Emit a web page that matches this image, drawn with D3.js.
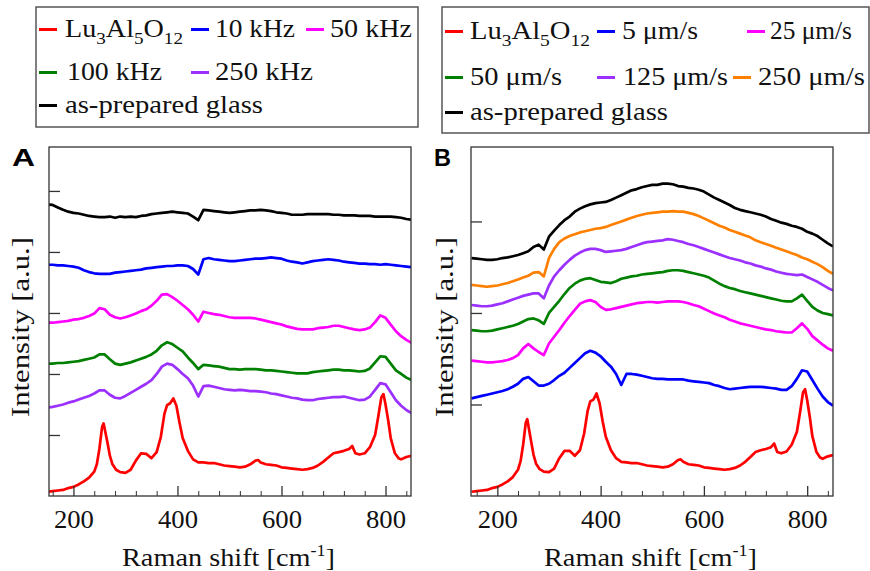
<!DOCTYPE html>
<html>
<head>
<meta charset="utf-8">
<script src="https://cdnjs.cloudflare.com/ajax/libs/d3/7.8.5/d3.min.js"></script>
<style>
body { margin: 0; background: #fff; }
</style>
</head>
<body>
<div id="chart"></div>
<script>
// Raman shift grid (cm-1) shared by the glass-ceramic spectra
const shiftGrid = [150, 160, 170, 180, 190, 200, 210, 220, 230, 240,
    250, 260, 270, 280, 290, 300, 310, 320, 330, 340,
    350, 360, 370, 380, 390, 400, 410, 420, 430, 440,
    450, 460, 470, 480, 490, 500, 510, 520, 530, 540,
    550, 560, 570, 580, 590, 600, 610, 620, 630, 640,
    650, 660, 670, 680, 690, 700, 710, 720, 730, 740,
    750, 760, 770, 780, 790, 800, 810, 820, 830, 840,
    850];

// Lu3Al5O12 reference is sampled more densely around its sharp bands
const lagShift = [150, 160, 170, 180, 190, 200, 210, 220, 230, 240,
    245, 250, 255, 258, 262, 266, 270, 275, 282, 290,
    300, 310, 320, 330, 340, 350, 360, 368, 375, 380,
    386, 392, 398, 404, 410, 420, 430, 440, 450, 460,
    470, 480, 490, 500, 510, 520, 530, 540, 550, 555,
    560, 570, 580, 590, 600, 610, 620, 630, 640, 650,
    660, 670, 680, 690, 700, 710, 720, 730, 736, 742,
    750, 760, 770, 780, 786, 792, 796, 800, 805, 810,
    818, 825, 830, 840, 850];

// ---- panel A (frequency series), offset intensities in a.u.
const lagA = [0.07, 0.08, 0.09, 0.10, 0.13, 0.15, 0.19, 0.24, 0.30, 0.40,
    0.52, 0.78, 1.13, 1.19, 1.02, 0.85, 0.66, 0.52, 0.43, 0.39,
    0.38, 0.43, 0.58, 0.70, 0.69, 0.62, 0.72, 0.97, 1.35, 1.49,
    1.52, 1.60, 1.48, 1.20, 0.95, 0.74, 0.60, 0.55, 0.55, 0.54,
    0.54, 0.52, 0.50, 0.49, 0.48, 0.47, 0.48, 0.52, 0.58, 0.59,
    0.55, 0.52, 0.51, 0.50, 0.47, 0.46, 0.45, 0.44, 0.43, 0.44,
    0.46, 0.50, 0.56, 0.63, 0.70, 0.72, 0.74, 0.77, 0.82, 0.70,
    0.68, 0.70, 0.80, 1.00, 1.30, 1.62, 1.67, 1.50, 1.25, 0.95,
    0.70, 0.62, 0.60, 0.64, 0.66];

const khz10 = [3.79, 3.79, 3.78, 3.78, 3.77, 3.76, 3.74, 3.70, 3.67, 3.65,
    3.64, 3.64, 3.64, 3.66, 3.67, 3.68, 3.69, 3.70, 3.71, 3.73,
    3.74, 3.75, 3.76, 3.77, 3.77, 3.78, 3.78, 3.77, 3.72, 3.63,
    3.88, 3.90, 3.88, 3.87, 3.86, 3.85, 3.85, 3.86, 3.87, 3.88,
    3.89, 3.89, 3.90, 3.91, 3.90, 3.89, 3.86, 3.84, 3.83, 3.81,
    3.83, 3.85, 3.86, 3.87, 3.88, 3.87, 3.86, 3.84, 3.83, 3.82,
    3.81, 3.81, 3.80, 3.80, 3.79, 3.80, 3.79, 3.78, 3.77, 3.76,
    3.75];

const khz50 = [2.84, 2.84, 2.85, 2.86, 2.87, 2.89, 2.90, 2.92, 2.95, 2.99,
    3.08, 3.06, 2.97, 2.93, 2.91, 2.93, 2.96, 2.99, 3.03, 3.06,
    3.12, 3.20, 3.30, 3.31, 3.26, 3.20, 3.13, 3.06, 2.97, 2.86,
    3.02, 3.00, 2.98, 2.97, 2.95, 2.93, 2.92, 2.92, 2.92, 2.92,
    2.91, 2.89, 2.87, 2.85, 2.83, 2.81, 2.78, 2.76, 2.74, 2.73,
    2.73, 2.73, 2.75, 2.76, 2.77, 2.79, 2.79, 2.77, 2.75, 2.73,
    2.72, 2.73, 2.76, 2.85, 2.96, 2.92, 2.81, 2.70, 2.62, 2.56,
    2.51];

const khz100 = [2.17, 2.17, 2.18, 2.18, 2.19, 2.20, 2.21, 2.23, 2.25, 2.27,
    2.32, 2.32, 2.24, 2.17, 2.15, 2.17, 2.19, 2.22, 2.25, 2.28,
    2.32, 2.38, 2.47, 2.52, 2.49, 2.43, 2.37, 2.27, 2.18, 2.08,
    2.15, 2.14, 2.13, 2.12, 2.10, 2.08, 2.08, 2.07, 2.08, 2.08,
    2.08, 2.07, 2.06, 2.06, 2.05, 2.04, 2.03, 2.02, 2.01, 2.01,
    2.01, 2.03, 2.04, 2.05, 2.06, 2.07, 2.07, 2.06, 2.06, 2.05,
    2.04, 2.05, 2.09, 2.19, 2.29, 2.28, 2.17, 2.06, 2.00, 1.94,
    1.90];

const khz250 = [1.45, 1.46, 1.48, 1.50, 1.53, 1.55, 1.58, 1.61, 1.64, 1.68,
    1.73, 1.73, 1.66, 1.61, 1.60, 1.64, 1.69, 1.74, 1.79, 1.84,
    1.90, 2.00, 2.12, 2.17, 2.15, 2.08, 2.00, 1.93, 1.81, 1.63,
    1.80, 1.81, 1.79, 1.77, 1.75, 1.74, 1.73, 1.74, 1.73, 1.72,
    1.72, 1.71, 1.70, 1.68, 1.67, 1.65, 1.63, 1.61, 1.60, 1.58,
    1.57, 1.57, 1.59, 1.60, 1.61, 1.62, 1.62, 1.63, 1.61, 1.59,
    1.57, 1.58, 1.63, 1.74, 1.85, 1.83, 1.70, 1.57, 1.48, 1.41,
    1.36];

const glassA = [4.78, 4.77, 4.73, 4.69, 4.66, 4.64, 4.63, 4.61, 4.59, 4.58,
    4.57, 4.57, 4.58, 4.56, 4.58, 4.57, 4.58, 4.57, 4.59, 4.60,
    4.62, 4.63, 4.64, 4.65, 4.66, 4.65, 4.64, 4.63, 4.58, 4.52,
    4.69, 4.68, 4.67, 4.66, 4.65, 4.64, 4.65, 4.66, 4.67, 4.68,
    4.68, 4.69, 4.68, 4.67, 4.65, 4.64, 4.63, 4.61, 4.61, 4.61,
    4.62, 4.62, 4.62, 4.62, 4.62, 4.61, 4.61, 4.60, 4.60, 4.60,
    4.59, 4.59, 4.59, 4.58, 4.58, 4.58, 4.58, 4.57, 4.56, 4.54,
    4.53];

// ---- panel B (pulling-rate series)
const lagB = [0.07, 0.08, 0.09, 0.10, 0.13, 0.15, 0.19, 0.24, 0.31, 0.43,
    0.57, 0.84, 1.20, 1.26, 1.06, 0.87, 0.68, 0.53, 0.44, 0.40,
    0.39, 0.45, 0.62, 0.74, 0.74, 0.66, 0.75, 1.02, 1.40, 1.55,
    1.58, 1.68, 1.52, 1.22, 0.97, 0.75, 0.62, 0.56, 0.55, 0.54,
    0.54, 0.52, 0.50, 0.49, 0.48, 0.47, 0.48, 0.52, 0.59, 0.60,
    0.56, 0.52, 0.51, 0.50, 0.47, 0.46, 0.45, 0.44, 0.43, 0.44,
    0.46, 0.50, 0.56, 0.64, 0.72, 0.75, 0.77, 0.80, 0.86, 0.72,
    0.70, 0.73, 0.84, 1.05, 1.36, 1.70, 1.75, 1.57, 1.30, 0.98,
    0.72, 0.63, 0.61, 0.65, 0.67];

const ums5 = [1.60, 1.62, 1.64, 1.66, 1.68, 1.70, 1.72, 1.75, 1.79, 1.84,
    1.92, 1.95, 1.88, 1.81, 1.81, 1.84, 1.90, 1.97, 2.02, 2.10,
    2.18, 2.26, 2.34, 2.38, 2.35, 2.29, 2.20, 2.12, 2.00, 1.82,
    2.00, 2.00, 1.99, 1.97, 1.95, 1.93, 1.92, 1.92, 1.91, 1.91,
    1.91, 1.91, 1.89, 1.88, 1.87, 1.86, 1.85, 1.82, 1.80, 1.77,
    1.75, 1.76, 1.77, 1.78, 1.79, 1.79, 1.79, 1.78, 1.77, 1.76,
    1.74, 1.74, 1.80, 1.92, 2.06, 2.04, 1.90, 1.76, 1.63, 1.54,
    1.48];

const ums25 = [2.22, 2.21, 2.20, 2.19, 2.19, 2.20, 2.21, 2.23, 2.26, 2.31,
    2.42, 2.49, 2.42, 2.36, 2.31, 2.50, 2.61, 2.72, 2.84, 2.95,
    3.05, 3.15, 3.19, 3.21, 3.18, 3.10, 3.05, 3.06, 3.08, 3.10,
    3.12, 3.14, 3.16, 3.17, 3.18, 3.18, 3.17, 3.18, 3.19, 3.19,
    3.19, 3.18, 3.16, 3.13, 3.11, 3.07, 3.03, 2.99, 2.96, 2.93,
    2.89, 2.86, 2.83, 2.81, 2.79, 2.77, 2.75, 2.73, 2.72, 2.70,
    2.69, 2.68, 2.68, 2.75, 2.83, 2.74, 2.62, 2.55, 2.48, 2.42,
    2.38];

const ums50 = [2.72, 2.71, 2.70, 2.70, 2.71, 2.73, 2.75, 2.77, 2.79, 2.82,
    2.86, 2.90, 2.91, 2.88, 2.82, 3.00, 3.10, 3.20, 3.31, 3.41,
    3.48, 3.53, 3.56, 3.57, 3.54, 3.51, 3.50, 3.49, 3.52, 3.56,
    3.58, 3.60, 3.61, 3.63, 3.64, 3.65, 3.66, 3.67, 3.69, 3.70,
    3.70, 3.69, 3.67, 3.65, 3.63, 3.61, 3.58, 3.53, 3.48, 3.44,
    3.41, 3.39, 3.36, 3.34, 3.32, 3.30, 3.28, 3.26, 3.24, 3.22,
    3.20, 3.19, 3.19, 3.24, 3.30, 3.20, 3.10, 3.04, 3.00, 2.98,
    2.96];

const ums125 = [3.13, 3.12, 3.11, 3.11, 3.12, 3.14, 3.16, 3.19, 3.22, 3.25,
    3.28, 3.30, 3.32, 3.32, 3.24, 3.45, 3.60, 3.70, 3.79, 3.87,
    3.94, 3.99, 4.03, 4.05, 4.05, 4.03, 4.00, 4.01, 4.02, 4.03,
    4.05, 4.08, 4.11, 4.14, 4.16, 4.17, 4.18, 4.19, 4.21, 4.20,
    4.18, 4.16, 4.13, 4.11, 4.08, 4.05, 4.02, 3.99, 3.96, 3.93,
    3.90, 3.88, 3.86, 3.83, 3.81, 3.78, 3.76, 3.73, 3.71, 3.68,
    3.66, 3.64, 3.63, 3.62, 3.63, 3.59, 3.55, 3.51, 3.46, 3.41,
    3.37];

const ums250 = [3.46, 3.45, 3.44, 3.43, 3.44, 3.45, 3.47, 3.49, 3.52, 3.55,
    3.58, 3.61, 3.66, 3.67, 3.60, 3.90, 4.05, 4.16, 4.22, 4.26,
    4.29, 4.32, 4.34, 4.36, 4.38, 4.39, 4.41, 4.44, 4.47, 4.50,
    4.53, 4.56, 4.59, 4.61, 4.63, 4.64, 4.65, 4.66, 4.66, 4.67,
    4.66, 4.66, 4.64, 4.62, 4.59, 4.55, 4.51, 4.47, 4.43, 4.40,
    4.36, 4.33, 4.30, 4.27, 4.24, 4.19, 4.16, 4.13, 4.10, 4.07,
    4.04, 4.01, 3.98, 3.95, 3.91, 3.88, 3.84, 3.80, 3.75, 3.69,
    3.64];

const glassB = [3.90, 3.89, 3.88, 3.87, 3.87, 3.88, 3.90, 3.91, 3.93, 3.95,
    3.98, 4.01, 4.08, 4.12, 4.04, 4.25, 4.35, 4.44, 4.52, 4.58,
    4.66, 4.71, 4.75, 4.78, 4.80, 4.81, 4.82, 4.85, 4.89, 4.93,
    4.97, 5.01, 5.03, 5.06, 5.08, 5.10, 5.10, 5.12, 5.12, 5.11,
    5.08, 5.07, 5.05, 5.04, 5.02, 4.99, 4.94, 4.89, 4.85, 4.81,
    4.77, 4.72, 4.69, 4.67, 4.65, 4.63, 4.61, 4.58, 4.54, 4.51,
    4.48, 4.46, 4.43, 4.41, 4.38, 4.33, 4.30, 4.26, 4.20, 4.14,
    4.09];

// tick values
const majorTicks = [200, 400, 600, 800];
const minorTicks = [160, 240, 280, 320, 360, 440, 480, 520, 560, 640, 680, 720, 760, 840];
const yTicksA = [1, 2, 3, 4, 5];
const yTicksB = [1.5, 3, 4.5];

// legend labels ({n} = subscript)
const labelsA = ["Lu{3}Al{5}O{12}", "10 kHz", "50 kHz", "100 kHz", "250 kHz", "as-prepared glass"];
const labelsB = ["Lu{3}Al{5}O{12}", "5 μm/s", "25 μm/s", "50 μm/s", "125 μm/s", "250 μm/s", "as-prepared glass"];

const col = {red: "#ff0000", blue: "#0000ff", magenta: "#ff00ff", green: "#008000",
    purple: "#9b30ff", orange: "#ff8000", black: "#000000"};

const serif = "'Liberation Serif', Tinos, 'Times New Roman', Times, 'Nimbus Roman', serif";
const sans = "'Liberation Sans', Arial, Helvetica, sans-serif";

const W = 870, H = 571;
const svg = d3.select("#chart").append("svg")
    .attr("width", W).attr("height", H)
    .style("font-family", serif);

// put text with {subscripts} into a text element
function add_label(t, str, subSize, subDy) {
    const parts = str.split(/(\{[^}]*\})/).filter(p => p.length);
    let down = 0;
    parts.forEach(function (p) {
        if (p[0] === "{") {
            t.append("tspan").attr("font-size", subSize).attr("dy", subDy - down).text(p.slice(1, -1));
            down = subDy;
        } else {
            t.append("tspan").attr("dy", -down).text(p);
            down = 0;
        }
    });
}

function draw_panel(cfg) {
    const top = 147, bottom = 496;
    const x = d3.scaleLinear().domain(cfg.domain).range([cfg.left, cfg.right]);
    const y = d3.scaleLinear().domain([0, 5.72]).range([bottom, top]);
    const g = svg.append("g");

    g.append("clipPath").attr("id", "clip" + cfg.id)
        .append("rect")
        .attr("x", cfg.left).attr("y", top)
        .attr("width", cfg.right - cfg.left).attr("height", bottom - top);

    const line = d3.line().x(d => x(d[0])).y(d => y(d[1]));
    cfg.series.forEach(function (s) {
        const pts = s.x.map((v, i) => [v, s.y[i]]);
        g.append("path")
            .datum(pts)
            .attr("clip-path", "url(#clip" + cfg.id + ")")
            .attr("fill", "none")
            .attr("stroke", s.color)
            .attr("stroke-width", 2.7)
            .attr("stroke-linejoin", "round")
            .attr("d", line);
    });

    // axes (ticks pointing inward)
    g.append("g")
        .attr("transform", "translate(0," + bottom + ")")
        .attr("color", "#333")
        .call(d3.axisBottom(x).tickValues(minorTicks).tickSize(-5).tickFormat(""))
        .call(a => a.select(".domain").remove());

    const xMajor = g.append("g")
        .attr("transform", "translate(0," + bottom + ")")
        .attr("color", "#333")
        .call(d3.axisBottom(x).tickValues(majorTicks).tickSize(-10).tickFormat(d3.format("d")))
        .call(a => a.select(".domain").remove());
    xMajor.attr("font-family", null).attr("font-size", null);
    xMajor.selectAll("text")
        .attr("y", 32).attr("dy", 0)
        .attr("font-size", 25)
        .attr("fill", "#111")
        .attr("textLength", 40)
        .attr("lengthAdjust", "spacingAndGlyphs");
    xMajor.selectAll("line").attr("stroke-width", 1.3);

    g.append("g")
        .attr("transform", "translate(" + cfg.left + ",0)")
        .attr("color", "#333")
        .call(d3.axisLeft(y).tickValues(cfg.yTicks).tickSize(-11).tickFormat(""))
        .call(a => a.select(".domain").remove())
        .selectAll("line").attr("stroke-width", 1.3);

    g.append("rect")
        .attr("x", cfg.left).attr("y", top)
        .attr("width", cfg.right - cfg.left).attr("height", bottom - top)
        .attr("fill", "none").attr("stroke", "#333").attr("stroke-width", 1.3);

    // axis titles
    const xt = g.append("text")
        .attr("x", (cfg.left + cfg.right) / 2 - 1.5).attr("y", 566)
        .attr("text-anchor", "middle")
        .attr("font-size", 25)
        .attr("fill", "#111")
        .attr("textLength", 213)
        .attr("lengthAdjust", "spacingAndGlyphs");
    xt.append("tspan").text("Raman shift [cm");
    xt.append("tspan").attr("font-size", 16).attr("dy", -10).text("-1");
    xt.append("tspan").attr("dy", 10).text("]");

    g.append("text")
        .attr("transform", "translate(" + cfg.yLabelX + ",327) rotate(-90)")
        .attr("text-anchor", "middle")
        .attr("font-size", 25)
        .attr("fill", "#111")
        .attr("textLength", 180)
        .attr("lengthAdjust", "spacingAndGlyphs")
        .text("Intensity [a.u.]");

    g.append("text")
        .attr("x", cfg.tagX).attr("y", 166)
        .style("font-family", sans)
        .attr("font-weight", "bold")
        .attr("font-size", 23)
        .attr("textLength", cfg.tagW)
        .attr("lengthAdjust", "spacingAndGlyphs")
        .text(cfg.tag);
}

function draw_legend(box, items) {
    svg.append("rect")
        .attr("x", box.x).attr("y", box.y).attr("width", box.w).attr("height", box.h)
        .attr("fill", "#fff").attr("stroke", "#555").attr("stroke-width", 1.5);
    items.forEach(function (it) {
        const base = box.rows[it.row];
        svg.append("line")
            .attr("x1", it.sx).attr("x2", it.sx + 18)
            .attr("y1", base - 7.5).attr("y2", base - 7.5)
            .attr("stroke", it.color).attr("stroke-width", 3);
        const t = svg.append("text")
            .attr("x", it.tx).attr("y", base)
            .attr("font-size", 25)
            .attr("fill", "#111")
            .attr("textLength", it.w)
            .attr("lengthAdjust", "spacingAndGlyphs");
        add_label(t, it.label, 17, 7);
    });
}

draw_panel({
    id: "A", tag: "A", tagX: 12, tagW: 23, yLabelX: 28.5,
    domain: [153, 849], left: 49, right: 411, yTicks: yTicksA,
    series: [
        {x: lagShift, y: lagA, color: col.red},
        {x: shiftGrid, y: khz250, color: col.purple},
        {x: shiftGrid, y: khz100, color: col.green},
        {x: shiftGrid, y: khz50, color: col.magenta},
        {x: shiftGrid, y: khz10, color: col.blue},
        {x: shiftGrid, y: glassA, color: col.black}
    ]
});

draw_panel({
    id: "B", tag: "B", tagX: 434, tagW: 17, yLabelX: 453,
    domain: [149, 850], left: 471, right: 833, yTicks: yTicksB,
    series: [
        {x: lagShift, y: lagB, color: col.red},
        {x: shiftGrid, y: ums5, color: col.blue},
        {x: shiftGrid, y: ums25, color: col.magenta},
        {x: shiftGrid, y: ums50, color: col.green},
        {x: shiftGrid, y: ums125, color: col.purple},
        {x: shiftGrid, y: ums250, color: col.orange},
        {x: shiftGrid, y: glassB, color: col.black}
    ]
});

draw_legend({x: 36, y: 7, w: 382, h: 120, rows: [37, 80, 113]}, [
    {label: labelsA[0], color: col.red, row: 0, sx: 39, tx: 65, w: 118},
    {label: labelsA[1], color: col.blue, row: 0, sx: 191, tx: 215, w: 80},
    {label: labelsA[2], color: col.magenta, row: 0, sx: 306, tx: 330, w: 82},
    {label: labelsA[3], color: col.green, row: 1, sx: 39, tx: 67, w: 95},
    {label: labelsA[4], color: col.purple, row: 1, sx: 191, tx: 215, w: 98},
    {label: labelsA[5], color: col.black, row: 2, sx: 39, tx: 65, w: 198}
]);

draw_legend({x: 442, y: 7, w: 427, h: 126, rows: [39, 85, 120]}, [
    {label: labelsB[0], color: col.red, row: 0, sx: 445, tx: 470, w: 120},
    {label: labelsB[1], color: col.blue, row: 0, sx: 597, tx: 622, w: 76},
    {label: labelsB[2], color: col.magenta, row: 0, sx: 747, tx: 770, w: 82},
    {label: labelsB[3], color: col.green, row: 1, sx: 445, tx: 470, w: 92},
    {label: labelsB[4], color: col.purple, row: 1, sx: 597, tx: 623, w: 105},
    {label: labelsB[5], color: col.orange, row: 1, sx: 733, tx: 758, w: 107},
    {label: labelsB[6], color: col.black, row: 2, sx: 445, tx: 470, w: 198}
]);
</script>
</body>
</html>
